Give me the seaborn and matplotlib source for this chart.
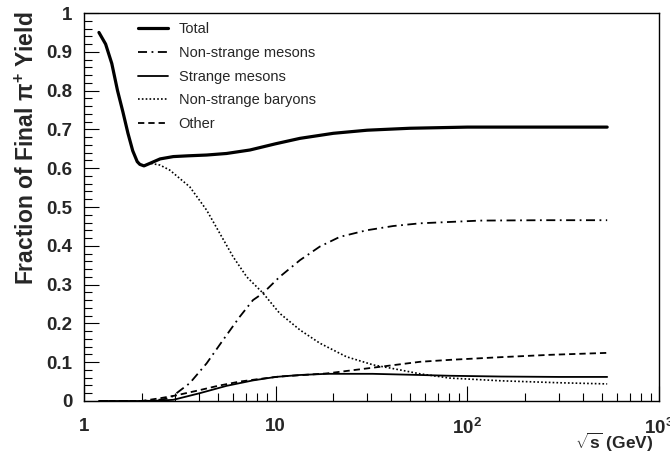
import numpy as np
import pandas as pd
import matplotlib
matplotlib.use("Agg")
import matplotlib.pyplot as plt
import seaborn as sns
from matplotlib.ticker import FixedLocator, NullFormatter, MultipleLocator

# ---- data ----
total_x = [1.2, 1.3, 1.4, 1.5, 1.6, 1.7, 1.8, 1.9, 1.96, 2.06, 2.2, 2.5, 2.93, 3.5, 4.37, 5.55, 7.35, 10, 13.4, 20, 30, 50, 100, 200, 535]
total_y = [0.95, 0.92, 0.87, 0.80, 0.745, 0.69, 0.645, 0.617, 0.610, 0.606, 0.612, 0.624, 0.630, 0.632, 0.634, 0.638, 0.647, 0.663, 0.677, 0.690, 0.698, 0.703, 0.706, 0.706, 0.706]

nsm_x = [1.2, 1.5, 2.0, 2.3, 2.81, 3.57, 4.37, 5.32, 6.5, 7.62, 8.6, 10.5, 13.4, 17.0, 21.6, 29.8, 41, 56.6, 116, 250, 535]
nsm_y = [0.0, 0.0, 0.0, 0.001, 0.007, 0.046, 0.097, 0.157, 0.217, 0.26, 0.278, 0.32, 0.363, 0.398, 0.423, 0.44, 0.451, 0.458, 0.465, 0.466, 0.466]

sm_x = [1.2, 1.5, 2.0, 2.5, 2.93, 4.02, 5.55, 7.62, 10, 13.4, 18.5, 32, 56.6, 81, 150, 300, 535]
sm_y = [0.0, 0.0, 0.0, 0.001, 0.003, 0.02, 0.039, 0.053, 0.062, 0.067, 0.070, 0.070, 0.067, 0.065, 0.063, 0.062, 0.062]

nsb_x = [2.06, 2.21, 2.5, 2.81, 3.57, 4.37, 5.12, 6.0, 7.07, 8.6, 10.5, 13.4, 17.0, 23.4, 32.3, 44.6, 56.6, 81, 150, 300, 535]
nsb_y = [0.606, 0.613, 0.608, 0.595, 0.552, 0.492, 0.432, 0.372, 0.32, 0.278, 0.226, 0.183, 0.149, 0.114, 0.093, 0.08, 0.07, 0.059, 0.052, 0.047, 0.044]

oth_x = [1.2, 1.5, 2.0, 2.49, 3.0, 4.02, 5.0, 6.5, 8.3, 10.5, 18.5, 34.9, 56.6, 81, 150, 270, 535]
oth_y = [0.0, 0.0, 0.0, 0.007, 0.014, 0.028, 0.039, 0.05, 0.057, 0.063, 0.071, 0.088, 0.101, 0.106, 0.113, 0.119, 0.124]

labels = ["Total", "Non-strange mesons", "Strange mesons", "Non-strange baryons", "Other"]
xticks = [1, 10, 100, 1000]
xticklabels = ["1", "10", r"$\mathbf{10^{2}}$", r"$\mathbf{10^{3}}$"]
yticks = [0, 0.1, 0.2, 0.3, 0.4, 0.5, 0.6, 0.7, 0.8, 0.9, 1.0]
yticklabels = ["0", "0.1", "0.2", "0.3", "0.4", "0.5", "0.6", "0.7", "0.8", "0.9", "1"]

# ---- style ----
sns.set_theme(style="ticks")
plt.rcParams["font.family"] = ["Liberation Sans", "DejaVu Sans"]
plt.rcParams["mathtext.fontset"] = "custom"
plt.rcParams["mathtext.rm"] = "Liberation Sans:bold"
plt.rcParams["mathtext.bf"] = "Liberation Sans:bold"
plt.rcParams["mathtext.it"] = "Liberation Sans:bold"

fig = plt.figure(figsize=(6.7, 4.58), dpi=100)
ax = fig.add_axes([0.125, 0.1245, 0.859, 0.847])

series = [
    (total_x, total_y, dict(lw=2.3, linestyle="-")),
    (nsm_x, nsm_y, dict(lw=1.3, linestyle=(0, (5, 2.5, 1, 2.5)))),
    (sm_x, sm_y, dict(lw=1.3, linestyle="-")),
    (nsb_x, nsb_y, dict(lw=1.2, linestyle=(0, (1, 1.3)))),
    (oth_x, oth_y, dict(lw=1.3, linestyle=(0, (3.5, 2.2)))),
]
for (xs, ys, kw), lab in zip(series, labels):
    df = pd.DataFrame({"x": xs, "y": ys})
    sns.lineplot(data=df, x="x", y="y", ax=ax, color="black", label=lab, **kw)

ax.set_xscale("log")
ax.set_xlim(1, 1000)
ax.set_ylim(0, 1)

ax.xaxis.set_major_locator(FixedLocator(xticks))
ax.set_xticklabels(xticklabels)
minors = [m * 10 ** e for e in range(0, 3) for m in range(2, 10)]
ax.xaxis.set_minor_locator(FixedLocator(minors))
ax.xaxis.set_minor_formatter(NullFormatter())
ax.set_yticks(yticks)
ax.set_yticklabels(yticklabels)
ax.yaxis.set_minor_locator(MultipleLocator(0.02))

ax.tick_params(axis="both", which="major", direction="in", length=11, width=0.8,
               labelsize=13.5, top=False, right=False, color="black")
ax.tick_params(axis="both", which="minor", direction="in", length=6, width=0.8,
               top=False, right=False, color="black")
ax.tick_params(axis="x", which="major", pad=12)
ax.tick_params(axis="y", which="major", pad=8)
for lab in ax.get_xticklabels() + ax.get_yticklabels():
    lab.set_fontweight("bold")
for sp in ax.spines.values():
    sp.set_color("black")
    sp.set_linewidth(1.0)

ax.set_xlabel(r"$\sqrt{\mathbf{s}}$ (GeV)", fontsize=12.5, fontweight="bold")
ax.xaxis.set_label_coords(0.99, -0.078)
ax.xaxis.label.set_horizontalalignment("right")
ax.set_ylabel("Fraction of Final π$^{+}$ Yield", fontsize=16.5, fontweight="bold")
ax.yaxis.set_label_coords(-0.078, 1.005)
ax.yaxis.label.set_verticalalignment("bottom")
ax.yaxis.label.set_horizontalalignment("right")

leg = ax.legend(loc="upper left", bbox_to_anchor=(0.094, 0.976), frameon=False, fontsize=10.5,
                handlelength=2.05, labelspacing=0.66, handletextpad=0.75,
                borderaxespad=0, borderpad=0)

fig.savefig("out.png", dpi=100, facecolor="white")
